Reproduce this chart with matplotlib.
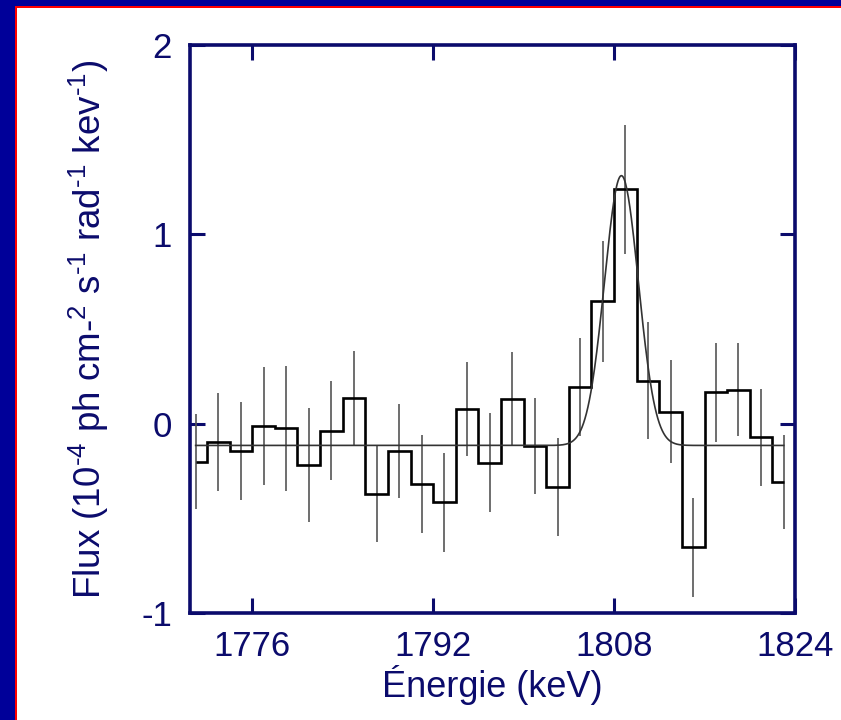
import numpy as np
import matplotlib.pyplot as plt
from matplotlib.patches import Rectangle

plt.rcParams['font.family'] = ['Liberation Sans', 'DejaVu Sans']
plt.rcParams['mathtext.fontset'] = 'custom'
plt.rcParams['mathtext.rm'] = 'Liberation Sans'
plt.rcParams['mathtext.it'] = 'Liberation Sans:italic'
plt.rcParams['mathtext.bf'] = 'Liberation Sans:bold'

navy = '#0b0b6c'

# Binned spectrum (2 keV bins, centred on odd energies)
energy = np.arange(1771, 1824, 2)
flux = [-0.20, -0.096, -0.144, -0.012, -0.023, -0.218, -0.037, 0.133, -0.37,
        -0.145, -0.32, -0.416, 0.077, -0.206, 0.131, -0.119, -0.335, 0.194,
        0.646, 1.238, 0.227, 0.064, -0.654, 0.165, 0.179, -0.072, -0.308]
flux_err = [0.25, 0.26, 0.26, 0.31, 0.33, 0.30, 0.26, 0.25, 0.255, 0.25, 0.26,
            0.26, 0.25, 0.26, 0.25, 0.255, 0.26, 0.26, 0.32, 0.34, 0.31, 0.27,
            0.26, 0.26, 0.245, 0.255, 0.25]

# Fitted line: flat continuum plus gaussian
continuum = -0.115
line_amp = 1.425
line_center = 1808.65
line_sigma = 1.5

xticks = [1776, 1792, 1808, 1824]
yticks = [-1, 0, 1, 2]

fig = plt.figure(figsize=(8.41, 7.2), dpi=100)
fig.patch.set_facecolor('white')

# blue/red frame on the top and left
W, H = 841.0, 720.0
fig.patches.append(Rectangle((0, 0), 15 / W, 1, transform=fig.transFigure,
                             facecolor='#000099', edgecolor='none'))
fig.patches.append(Rectangle((0, 1 - 5.5 / H), 1, 5.5 / H, transform=fig.transFigure,
                             facecolor='#000099', edgecolor='none'))
fig.patches.append(Rectangle((15 / W, 0), 2 / W, 1 - 5.5 / H, transform=fig.transFigure,
                             facecolor='#ff0000', edgecolor='none'))
fig.patches.append(Rectangle((15 / W, 1 - 7.5 / H), 1, 2 / H, transform=fig.transFigure,
                             facecolor='#ff0000', edgecolor='none'))

ax = fig.add_axes([190 / W, 1 - 613 / H, 605 / W, 568 / H])

edges = np.concatenate([[energy[0]], energy[:-1] + 1, [energy[-1]]])
ax.stairs(flux, edges, baseline=None, color='black', lw=1.9, zorder=3)
ax.errorbar(energy, flux, yerr=flux_err, fmt='none', ecolor='#555555',
            elinewidth=1.2, capsize=0, zorder=2)

xs = np.linspace(energy[0], energy[-1], 800)
model = continuum + line_amp * np.exp(-0.5 * ((xs - line_center) / line_sigma) ** 2)
ax.plot(xs, model, color='#333333', lw=1.2, zorder=4)

ax.set_xlim(1770.5, 1824)
ax.set_ylim(-1, 2)
ax.set_xticks(xticks)
ax.set_yticks(yticks)
ax.set_yticklabels(['-1', '0', '1', '2'])

for s in ax.spines.values():
    s.set_color(navy)
    s.set_linewidth(2.6)
ax.tick_params(direction='in', length=11, width=2.2, color=navy,
               labelcolor=navy, labelsize=25, top=True, right=True)
ax.tick_params(axis='x', pad=12)
ax.tick_params(axis='y', pad=13)

ax.set_xlabel('Énergie (keV)', fontsize=26, color=navy, labelpad=2)
ax.set_ylabel(r'Flux (10$^{\text{-4}}$ ph cm-$^{\text{2}}$ s$^{\text{-1}}$ '
              r'rad$^{\text{-1}}$ kev$^{\text{-1}}$)',
              fontsize=26.5, color=navy)
ax.yaxis.set_label_coords(-0.13, 0.5)

fig.savefig('out.png', dpi=100)
